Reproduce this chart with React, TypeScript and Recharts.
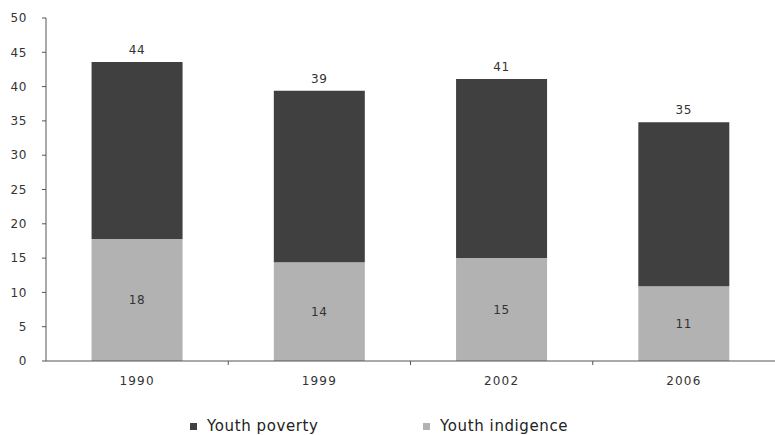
import { BarChart, Bar, XAxis, YAxis, LabelList, Legend } from "recharts";

const years = ["1990", "1999", "2002", "2006"];
const youthPoverty = [43.6, 39.4, 41.1, 34.8];
const youthIndigence = [17.8, 14.4, 15.0, 10.9];
const yTicks = [0, 5, 10, 15, 20, 25, 30, 35, 40, 45, 50];

const data = years.map((year, i) => ({
  year,
  indigence: youthIndigence[i],
  rest: youthPoverty[i] - youthIndigence[i],
  poverty: youthPoverty[i],
}));

const W = 775;
const H = 435;
const LEFT = 46;
const FONT = "'DejaVu Sans', sans-serif";
const DARK = "#404040";
const LIGHT = "#b2b2b2";
const AXIS = "#555";
const TEXT = "#333";

const band = (W - LEFT) / years.length;

function XTick(props: any) {
  const { x, y, payload, index } = props;
  return (
    <g>
      <text
        x={x}
        y={y + 16}
        textAnchor="middle"
        fontSize={12}
        letterSpacing={1.2}
        fill={TEXT}
        fontFamily={FONT}
      >
        {payload.value}
      </text>
      {index < years.length - 1 && (
        <line x1={x + band / 2} x2={x + band / 2} y1={y - 8} y2={y - 4} stroke={AXIS} />
      )}
    </g>
  );
}

function LegendBox() {
  const item = (color: string, label: string, w: number) => (
    <div style={{ display: "flex", alignItems: "center", width: w }}>
      <span style={{ width: 7, height: 7, background: color, marginRight: 10, display: "inline-block" }} />
      <span style={{ fontSize: 15, letterSpacing: 0.6, color: "#222", fontFamily: FONT }}>{label}</span>
    </div>
  );
  return (
    <div style={{ display: "flex", paddingLeft: 190 }}>
      {item(DARK, "Youth poverty", 233)}
      {item(LIGHT, "Youth indigence", 200)}
    </div>
  );
}

const labelStyle = { fontSize: 12, fill: TEXT, fontFamily: FONT, letterSpacing: 0.6 };

export default function App() {
  return (
    <div style={{ position: "absolute", left: 0, top: 0, background: "#fff" }}>
      <BarChart
        width={W}
        height={H}
        data={data}
        margin={{ top: 18, right: 0, bottom: 26, left: 0 }}
        barCategoryGap="25%"
      >
        <YAxis
          width={LEFT}
          domain={[0, 50]}
          ticks={yTicks}
          interval={0}
          tickSize={4}
          tickMargin={15}
          tickLine={{ stroke: AXIS }}
          axisLine={{ stroke: AXIS }}
          tick={{ fontSize: 12, fill: TEXT, fontFamily: FONT, letterSpacing: 0.6 }}
        />
        <XAxis
          dataKey="year"
          height={30}
          tickLine={false}
          axisLine={{ stroke: AXIS }}
          tick={<XTick />}
          interval={0}
        />
        <Legend verticalAlign="bottom" content={<LegendBox />} wrapperStyle={{ bottom: 0 }} />
        <Bar dataKey="indigence" stackId="a" fill={LIGHT} isAnimationActive={false}>
          <LabelList
            dataKey="indigence"
            position="center"
            formatter={(v: any) => Math.round(v)}
            style={labelStyle}
          />
        </Bar>
        <Bar dataKey="rest" stackId="a" fill={DARK} isAnimationActive={false}>
          <LabelList
            dataKey="poverty"
            position="top"
            offset={8}
            formatter={(v: any) => Math.round(v)}
            style={labelStyle}
          />
        </Bar>
      </BarChart>
    </div>
  );
}
